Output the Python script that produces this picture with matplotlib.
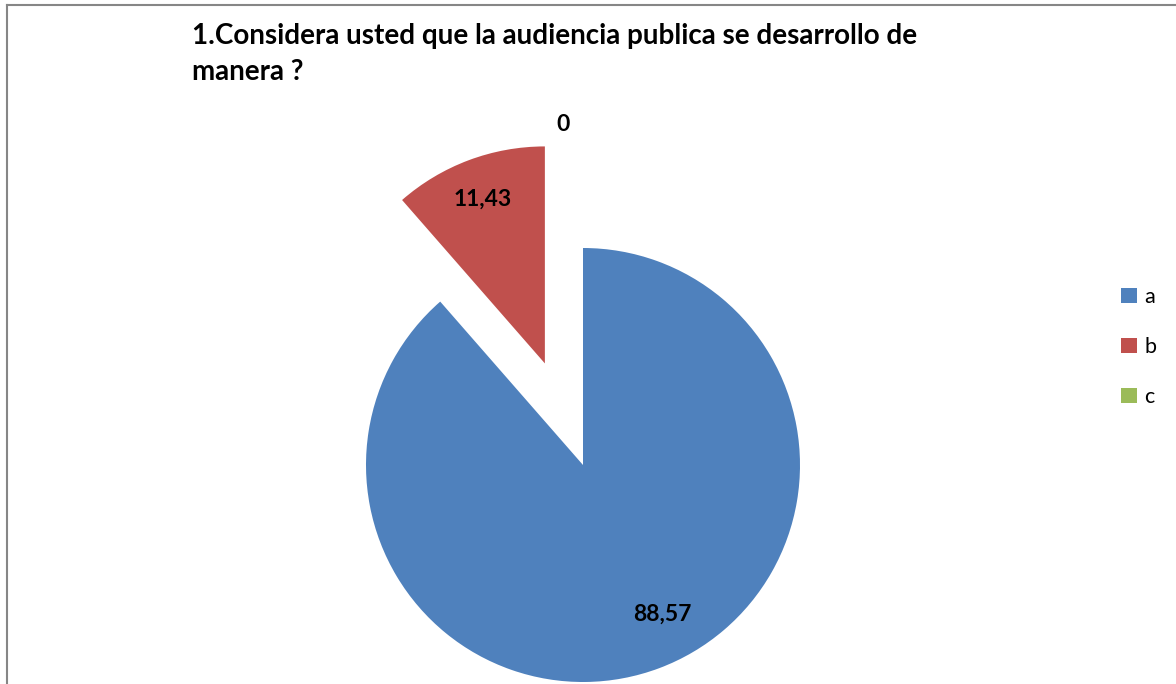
import numpy as np
import matplotlib.pyplot as plt
from matplotlib.lines import Line2D

# datos
categories = ['a', 'b', 'c']
values = [88.57, 11.43, 0]
value_labels = ['88,57', '11,43', '0']
title_lines = ['1.Considera usted que la audiencia publica se desarrollo de', 'manera ?']

colors = ['#4F81BD', '#C0504D', '#9BBB59']
explode = [0, 0.5, 0]

plt.rcParams['font.family'] = ['Lato', 'DejaVu Sans']

W, H = 1176, 684
fig = plt.figure(figsize=(W / 100, H / 100), dpi=100)

# ejes en pixeles / radio
R = 217.0
cx, cy = 583.0, 465.0
ax = fig.add_axes([0, 0, 1, 1])

wedges, _ = ax.pie(values, colors=colors, explode=explode, startangle=90,
                   counterclock=False, radius=1, wedgeprops=dict(linewidth=0))

ax.set_xlim(-cx / R, (W - cx) / R)
ax.set_ylim(-(H - cy) / R, cy / R)
ax.set_aspect('equal')
ax.axis('off')

# etiquetas de datos
label_r = [0.78, 0.81, 1.57]
label_dtheta = [7.5, 0, 3.4]
for w, txt, r, dt in zip(wedges, value_labels, label_r, label_dtheta):
    mid = np.deg2rad((w.theta1 + w.theta2) / 2 + dt)
    x0, y0 = w.center
    ax.text(x0 + r * np.cos(mid), y0 + r * np.sin(mid), txt, ha='center', va='center',
            fontsize=16.5, fontweight='bold', color='black')

# titulo
fig.text(192 / W, 1 - 44 / H, title_lines[0], fontsize=20, fontweight='bold', va='baseline')
fig.text(192 / W, 1 - 80 / H, title_lines[1], fontsize=20, fontweight='bold', va='baseline')

# leyenda
fig.legend(wedges, categories, loc='upper left', bbox_to_anchor=(1121 / W, 1 - 287 / H),
           frameon=False, fontsize=15.5, handlelength=0.72, handleheight=0.72,
           handletextpad=0.35, labelspacing=1.4, borderpad=0, borderaxespad=0)

# marco del grafico
fig.add_artist(Line2D([6.5 / W, 6.5 / W], [0, 1 - 4.5 / H], color='#868686', lw=1.5))
fig.add_artist(Line2D([6.5 / W, 1], [1 - 4.5 / H, 1 - 4.5 / H], color='#868686', lw=1.5))

fig.savefig('out.png', dpi=100)
